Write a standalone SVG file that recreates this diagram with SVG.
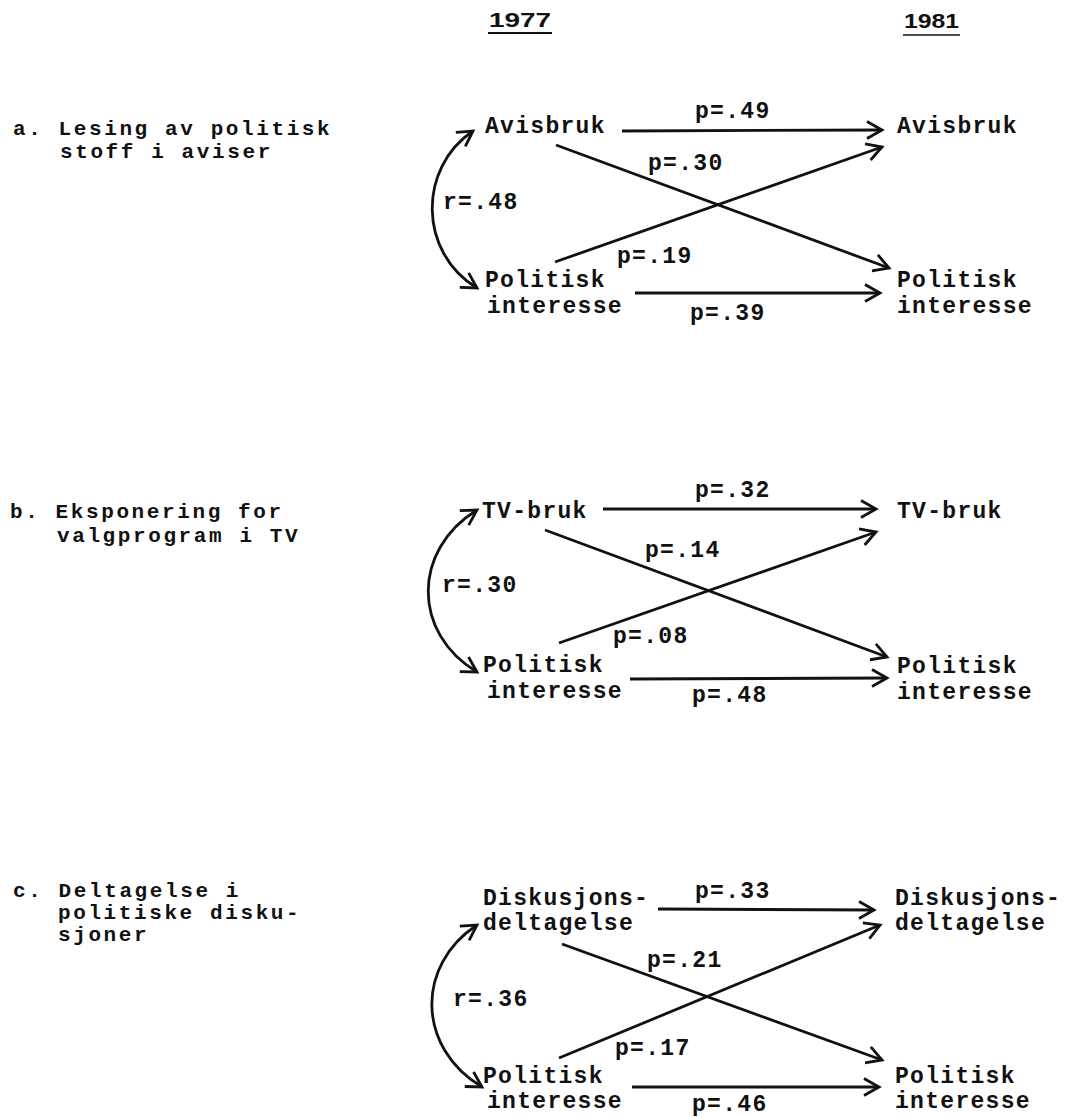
<svg xmlns="http://www.w3.org/2000/svg" width="1067" height="1117" viewBox="0 0 1067 1117">
<style>
.lab{font-family:"Liberation Mono","DejaVu Sans Mono",monospace;font-size:21px;font-weight:bold;letter-spacing:2.6px;fill:#111}
.t{font-family:"Liberation Mono","DejaVu Sans Mono",monospace;font-size:23px;font-weight:bold;letter-spacing:1.3px;fill:#111}
.h{font-family:"Liberation Sans","DejaVu Sans",sans-serif;font-size:21px;font-weight:bold;fill:#111}
.c{fill:none;stroke:#111;stroke-width:2.8}
.ar{marker-end:url(#ah)}
.cv{marker-end:url(#ah);marker-start:url(#ah)}
</style>
<defs>
<marker id="ah" markerUnits="userSpaceOnUse" markerWidth="22" markerHeight="22" viewBox="0 0 22 22" refX="18" refY="11" orient="auto-start-reverse">
<path d="M3,2.5 L18,11 L3,19.5" fill="none" stroke="#111" stroke-width="2.8"/>
</marker>
</defs>
<rect width="1067" height="1117" fill="#fff"/>
<g id="header">
<text class="h" x="489" y="27" textLength="62" lengthAdjust="spacingAndGlyphs">1977</text>
<line x1="488" y1="33" x2="552" y2="33" stroke="#111" stroke-width="2"/>
<text class="h" x="904" y="28" textLength="55" lengthAdjust="spacingAndGlyphs" font-weight="normal">1981</text>
<line x1="903" y1="35" x2="960" y2="35" stroke="#111" stroke-width="1.6"/>
</g>
<g id="label-a"><text class="lab" x="13" y="135">a. Lesing av politisk</text><text class="lab" x="60" y="158">stoff i aviser</text></g>
<g id="label-b"><text class="lab" x="10" y="518">b. Eksponering for</text><text class="lab" x="57" y="542">valgprogram i TV</text></g>
<g id="label-c"><text class="lab" x="13" y="897">c. Deltagelse i</text><text class="lab" x="58" y="919">politiske disku-</text><text class="lab" x="58" y="941">sjoner</text></g>
<g id="a-avis77"><text class="t" x="485" y="133">Avisbruk</text></g>
<g id="a-avis81"><text class="t" x="897" y="133">Avisbruk</text></g>
<g id="a-pol77"><text class="t" x="485" y="287">Politisk</text><text class="t" x="487" y="313">interesse</text></g>
<g id="a-pol81"><text class="t" x="897" y="287">Politisk</text><text class="t" x="897" y="313">interesse</text></g>
<g id="b-tv77"><text class="t" x="482" y="518">TV-bruk</text></g>
<g id="b-tv81"><text class="t" x="897" y="518">TV-bruk</text></g>
<g id="b-pol77"><text class="t" x="483" y="672">Politisk</text><text class="t" x="487" y="698">interesse</text></g>
<g id="b-pol81"><text class="t" x="897" y="673">Politisk</text><text class="t" x="897" y="699">interesse</text></g>
<g id="c-disk77"><text class="t" x="483" y="905">Diskusjons-</text><text class="t" x="483" y="930">deltagelse</text></g>
<g id="c-disk81"><text class="t" x="895" y="905">Diskusjons-</text><text class="t" x="895" y="930">deltagelse</text></g>
<g id="c-pol77"><text class="t" x="483" y="1083">Politisk</text><text class="t" x="487" y="1108">interesse</text></g>
<g id="c-pol81"><text class="t" x="895" y="1083">Politisk</text><text class="t" x="895" y="1108">interesse</text></g>
<g id="connectors">
<path class="c ar" d="M622,131 L882,130"/>
<path class="c ar" d="M556,145 L889,268"/>
<path class="c ar" d="M555,262 L882,147"/>
<path class="c ar" d="M635,293 L880,293"/>
<path class="c cv" d="M473,131 C418,168 418,252 477,288"/>
<path class="c ar" d="M603,509 L876,509"/>
<path class="c ar" d="M545,530 L887,657"/>
<path class="c ar" d="M559,643 L876,532"/>
<path class="c ar" d="M630,679 L887,678"/>
<path class="c cv" d="M477,510 C412,550 412,633 477,672"/>
<path class="c ar" d="M658,909 L874,910"/>
<path class="c ar" d="M562,944 L882,1060"/>
<path class="c ar" d="M559,1058 L880,925"/>
<path class="c ar" d="M632,1087 L879,1087"/>
<path class="c cv" d="M477,925 C416,965 416,1047 482,1087"/>
<text class="t" x="695" y="118">p=.49</text>
<text class="t" x="648" y="170">p=.30</text>
<text class="t" x="617" y="263">p=.19</text>
<text class="t" x="690" y="320">p=.39</text>
<text class="t" x="443" y="209">r=.48</text>
<text class="t" x="695" y="497">p=.32</text>
<text class="t" x="645" y="557">p=.14</text>
<text class="t" x="613" y="643">p=.08</text>
<text class="t" x="692" y="702">p=.48</text>
<text class="t" x="442" y="592">r=.30</text>
<text class="t" x="695" y="898">p=.33</text>
<text class="t" x="647" y="967">p=.21</text>
<text class="t" x="615" y="1055">p=.17</text>
<text class="t" x="692" y="1111">p=.46</text>
<text class="t" x="453" y="1006">r=.36</text>
</g>
</svg>
